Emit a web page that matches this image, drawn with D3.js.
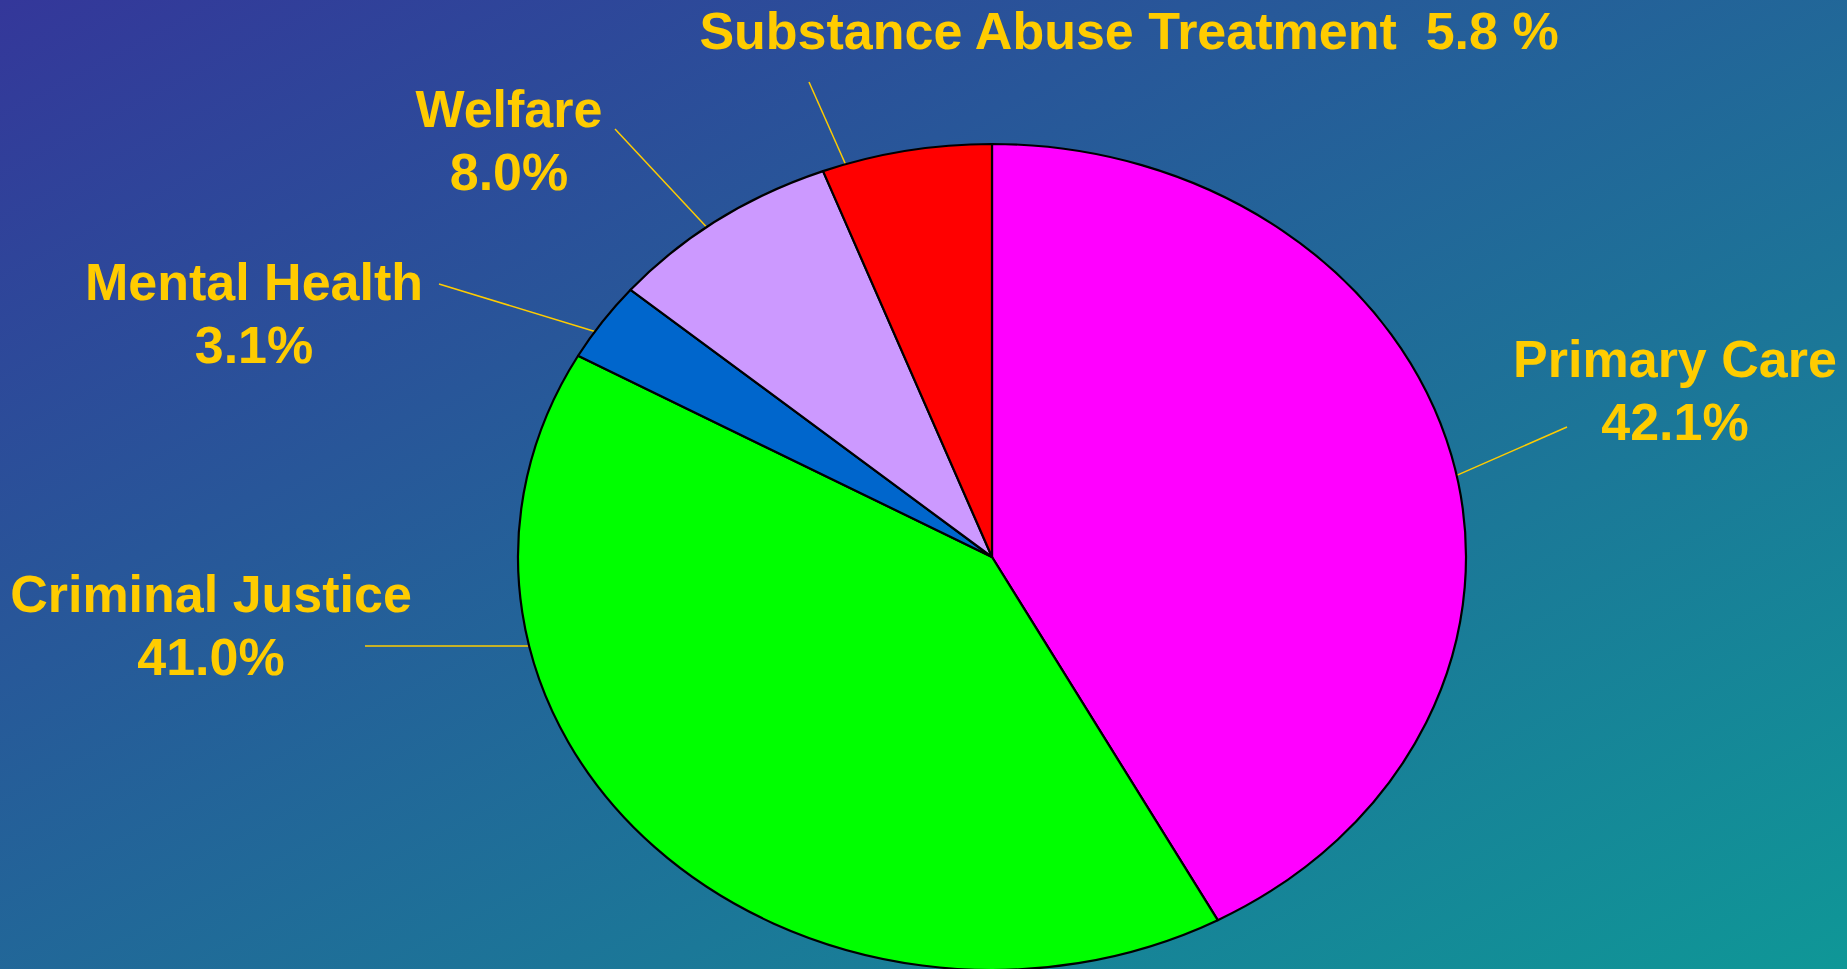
<!DOCTYPE html>
<html lang="en">
<head>
    <meta charset="UTF-8">
    <title>Spending Share</title>
    <style>
        body { margin: 0; overflow: hidden; }
        svg { display: block; }
        .label { font-family: "Liberation Sans", Arial, sans-serif; font-weight: bold; font-size: 52px; fill: #FFCC00; }
    </style>
</head>
<body>
<svg width="1847" height="969"></svg>

<script src="https://d3js.org/d3.v7.min.js"></script>
<script>

    // slices, clockwise from 12 o'clock
    var categories = ["Primary Care", "Criminal Justice", "Mental Health", "Welfare", "Substance Abuse Treatment"];
    var shares = [42.1, 41.0, 3.1, 8.0, 5.8];
    var shareLabels = ["42.1%", "41.0%", "3.1%", "8.0%", "5.8 %"];
    var sliceColors = ["#FF00FF", "#00FF00", "#0066CC", "#CC99FF", "#FF0000"];

    // label layout: centre x, first baseline, leader start, angle (deg) where leader meets the pie
    var labelX = [1675, 211, 254, 509, 1129];
    var labelY = [377, 612, 300, 127, 49];
    var leaderFrom = [[1567, 427], [365, 646], [439, 284], [615, 129], [809, 82]];
    var leaderAngle = [78.6, 257.55, 303.1, 323, 342];

    var svg = d3.select("svg");
    var width = +svg.attr("width");
    var height = +svg.attr("height");

    var cx = 992, cy = 557, rx = 474, ry = 413;

    var grad = svg.append("defs").append("linearGradient")
        .attr("id", "bg").attr("x1", 0).attr("y1", 0).attr("x2", 1).attr("y2", 1);
    grad.append("stop").attr("offset", "0%").attr("stop-color", "#34379A");
    grad.append("stop").attr("offset", "100%").attr("stop-color", "#0F9797");

    svg.append("rect").attr("width", width).attr("height", height).attr("fill", "url(#bg)");

    var data = categories.map(function(c, i) {
        return {name: c, value: shares[i], label: shareLabels[i], color: sliceColors[i]};
    });

    var pie = d3.pie().sort(null).value(function(d) { return d.value; });
    var arc = d3.arc().innerRadius(0).outerRadius(rx);

    // leader lines (drawn first so the pie outline sits on top)
    svg.selectAll(".leader")
        .data(data)
        .enter()
        .append("line")
        .attr("class", "leader")
        .attr("x1", function(d, i) { return leaderFrom[i][0]; })
        .attr("y1", function(d, i) { return leaderFrom[i][1]; })
        .attr("x2", function(d, i) { return cx + rx * Math.sin(leaderAngle[i] * Math.PI / 180); })
        .attr("y2", function(d, i) { return cy - ry * Math.cos(leaderAngle[i] * Math.PI / 180); })
        .attr("stroke", "#FFCC00")
        .attr("stroke-width", 1.5);

    // circle drawn with radius rx, squashed vertically into the ellipse
    var g = svg.append("g")
        .attr("transform", "translate(" + cx + "," + cy + ") scale(1," + (ry / rx) + ")");

    g.selectAll("path")
        .data(pie(data))
        .enter()
        .append("path")
        .attr("d", arc)
        .attr("fill", function(d) { return d.data.color; })
        .attr("stroke", "#000")
        .attr("stroke-width", 2.2)
        .attr("vector-effect", "non-scaling-stroke")
        .attr("stroke-linejoin", "round");

    // labels
    var labels = svg.selectAll(".label")
        .data(data)
        .enter()
        .append("text")
        .attr("class", "label")
        .attr("text-anchor", "middle")
        .attr("x", function(d, i) { return labelX[i]; })
        .attr("y", function(d, i) { return labelY[i]; });

    labels.each(function(d, i) {
        var t = d3.select(this);
        if (d.name === "Substance Abuse Treatment") {
            t.attr("xml:space", "preserve").text(d.name + "  " + d.label);
        } else {
            t.append("tspan").attr("x", labelX[i]).text(d.name);
            t.append("tspan").attr("x", labelX[i]).attr("dy", 63).text(d.label);
        }
    });

</script>
</body>
</html>
